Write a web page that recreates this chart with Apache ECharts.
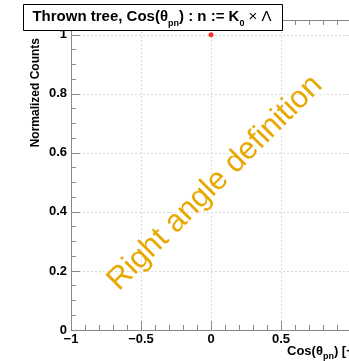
<!DOCTYPE html>
<html>
<head>
<meta charset="utf-8">
<script src="https://cdn.jsdelivr.net/npm/echarts@6/dist/echarts.min.js"></script>
<style>
html, body { margin: 0; padding: 0; background: #fff; }
#chart { width: 349px; height: 361px; }
</style>
</head>
<body>
<div id="chart"></div>
<script>
// data
const xTickValues = [-1, -0.5, 0, 0.5];
const yTickValues = [0, 0.2, 0.4, 0.6, 0.8, 1];
const cosValues = [0];
const normCounts = [1];

const font = 'Liberation Sans, Arial, Helvetica, sans-serif';
const axisGrey = '#8a8a8a';
const gridGrey = '#dadada';

function fmtX(v) {
    let r = Math.round(v * 100) / 100;
    if (!xTickValues.some(t => Math.abs(t - r) < 1e-6)) return '';
    return String(r).replace('-', '\u2212');
}
function fmtY(v) {
    let r = Math.round(v * 100) / 100;
    if (!yTickValues.some(t => Math.abs(t - r) < 1e-6)) return '';
    return String(r);
}

const chart = echarts.init(document.getElementById('chart'));

const subRich = {
    m: { fontFamily: font, fontWeight: 'bold', fontSize: 15, color: '#000', lineHeight: 17, verticalAlign: 'middle' },
    s: { fontFamily: font, fontWeight: 'bold', fontSize: 9, color: '#000', lineHeight: 23, verticalAlign: 'bottom' },
    t: { fontFamily: font, fontWeight: 'normal', fontSize: 15, color: '#000', lineHeight: 17, verticalAlign: 'middle' }
};

let option = {
    animation: false,
    grid: { left: 71, top: 20, width: 280, bottom: 31, containLabel: false, outerBoundsMode: 'none' },
    xAxis: [{
        type: 'value',
        min: -1, max: 1, interval: 0.5,
        axisLine: { show: true, onZero: false, lineStyle: { color: axisGrey, width: 1 } },
        axisTick: { show: true, inside: true, length: 9, lineStyle: { color: axisGrey } },
        minorTick: { show: true, splitNumber: 5, length: 5, lineStyle: { color: axisGrey } },
        axisLabel: { formatter: fmtX, color: '#000', fontFamily: font, fontWeight: 'bold', fontSize: 13, margin: 3 },
        splitLine: { show: true, lineStyle: { color: gridGrey, type: [2, 2], width: 1 } }
    }, {
        type: 'value', position: 'top',
        min: -1, max: 1, interval: 0.5,
        axisLine: { show: true, onZero: false, lineStyle: { color: axisGrey, width: 1 } },
        axisTick: { show: true, inside: true, length: 9, lineStyle: { color: axisGrey } },
        minorTick: { show: true, splitNumber: 5, length: 5, lineStyle: { color: axisGrey } },
        axisLabel: { show: false },
        splitLine: { show: false }
    }],
    yAxis: {
        type: 'value',
        min: 0, max: 1.05, interval: 0.2,
        axisLine: { show: true, onZero: false, lineStyle: { color: axisGrey, width: 1 } },
        axisTick: { show: true, inside: true, length: 9, lineStyle: { color: axisGrey } },
        minorTick: { show: true, splitNumber: 4, length: 5, lineStyle: { color: axisGrey } },
        axisLabel: { formatter: fmtY, color: '#000', fontFamily: font, fontWeight: 'bold', fontSize: 13, margin: 4 },
        splitLine: { show: true, lineStyle: { color: gridGrey, type: [2, 2], width: 1 } }
    },
    series: [{
        type: 'scatter',
        data: cosValues.map((x, i) => [x, normCounts[i]]),
        symbol: 'circle',
        symbolSize: 5,
        itemStyle: { color: '#ff0000' }
    }],
    graphic: [
        {
            type: 'rect', left: 23, top: 4, z: 10,
            shape: { width: 259, height: 26 },
            style: { fill: '#fff', stroke: '#000', lineWidth: 1 }
        },
        {
            type: 'text', x: 152, y: 17, z: 11,
            style: {
                text: '{m|Thrown tree, Cos(θ}{s|pn}{m|) : n := K}{s|0}{t| × Λ}',
                rich: subRich, align: 'center', verticalAlign: 'middle'
            }
        },
        {
            type: 'text', x: 36, y: 38, rotation: Math.PI / 2, z: 11,
            style: {
                text: 'Normalized Counts', fill: '#000',
                font: 'bold 12px ' + font,
                align: 'right', verticalAlign: 'middle'
            }
        },
        {
            type: 'text', x: 287, y: 351, z: 11,
            style: {
                text: '{m|Cos(θ}{s|pn}{m|) [−]}',
                rich: {
                    m: { fontFamily: font, fontWeight: 'bold', fontSize: 13, color: '#000', lineHeight: 15, verticalAlign: 'middle' },
                    s: { fontFamily: font, fontWeight: 'bold', fontSize: 9, color: '#000', lineHeight: 21, verticalAlign: 'bottom' }
                },
                align: 'left', verticalAlign: 'middle'
            }
        },
        {
            type: 'text', x: 215, y: 183, rotation: Math.PI / 4, z: 12,
            style: {
                text: 'Right angle definition', fill: '#e8a800',
                font: '31px ' + font,
                align: 'center', verticalAlign: 'middle'
            }
        }
    ]
};

chart.setOption(option);
</script>
</body>
</html>
